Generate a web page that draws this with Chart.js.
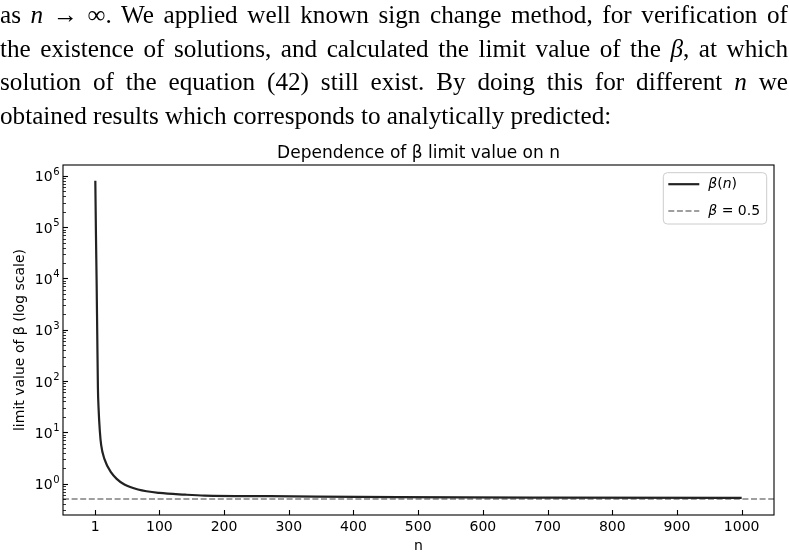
<!DOCTYPE html>
<html>
<head>
<meta charset="utf-8">
<script src="https://cdn.jsdelivr.net/npm/chart.js@4"></script>
<style>
  html, body { margin: 0; padding: 0; background: #fff; }
  body { width: 789px; height: 557px; position: relative; overflow: hidden; }
  #text {
    position: absolute; left: 0; top: -2px; width: 788px; z-index: 2;
    font-family: "Liberation Serif", "DejaVu Serif", serif;
    font-size: 25.2px; line-height: 33.5px; color: #000;
  }
  #text .j { text-align: justify; text-align-last: justify; }
  #chart { position: absolute; left: 0; top: 0; }
</style>
</head>
<body>
<div id="text">
  <div class="j">as <i>n</i> → ∞.  We applied well known sign change method, for verification of</div>
  <div class="j">the existence of solutions, and calculated the limit value of the <i>β</i>, at which</div>
  <div class="j">solution of the equation (42) still exist.  By doing this for different <i>n</i> we</div>
  <div>obtained results which corresponds to analytically predicted:</div>
</div>
<canvas id="chart" width="789" height="557"></canvas>
<script>
// values
const nValues    = [1, 2, 3, 4, 5, 6, 8, 10, 15, 26, 34, 46, 67, 100, 140, 170, 270, 470, 700, 1000];
const betaValues = [800000, 70000, 9000, 800, 75, 30, 10.5, 5.7, 3.05, 1.62, 1.24, 0.96, 0.77, 0.66, 0.61, 0.585, 0.57, 0.545, 0.535, 0.53];
const betaLimit  = 0.5;

const xTicks = [1, 100, 200, 300, 400, 500, 600, 700, 800, 900, 1000];
const yMajorTicks = [1, 10, 100, 1000, 10000, 100000, 1000000];
const yTickExponents = ['0', '1', '2', '3', '4', '5', '6'];

const xMin = -48.95, xMax = 1049.95;
const yMin = 0.245, yMax = 1.63e6;

const chartTitle = 'Dependence of β limit value on n';
const fontFamily = '"DejaVu Sans", sans-serif';

// log axis: decades plus 2..9 minor ticks
var yTickValues = [];
[0.1].concat(yMajorTicks).forEach(function (d) {
    for (let m = 1; m <= 9; m++) {
        const v = m * d;
        if (v >= yMin && v <= yMax) yTickValues.push(v);
    }
});

// draws inward ticks, 10^k labels, the box, the title and the legend
const decorPlugin = {
    id: 'decor',
    afterDraw(chart) {
        const ctx = chart.ctx;
        const area = chart.chartArea;
        const xs = chart.scales.x, ys = chart.scales.y;
        ctx.save();
        ctx.strokeStyle = '#000';
        ctx.fillStyle = '#000';

        ys.ticks.forEach(function (t) {
            const k = yMajorTicks.indexOf(t.value);
            const major = k >= 0;
            const yp = ys.getPixelForValue(t.value);
            const y = Math.round(yp) + 0.5;
            ctx.lineWidth = major ? 1.1 : 0.8;
            ctx.beginPath();
            ctx.moveTo(area.left, y);
            ctx.lineTo(area.left + (major ? 5 : 3), y);
            ctx.stroke();
            if (major) {
                // "10" with a raised exponent, right aligned next to the axis
                const right = area.left - 3.5;
                ctx.textAlign = 'right';
                ctx.textBaseline = 'alphabetic';
                ctx.font = '10px ' + fontFamily;
                ctx.fillText(yTickExponents[k], right, yp - 1);
                const ew = ctx.measureText(yTickExponents[k]).width;
                ctx.font = '14px ' + fontFamily;
                ctx.fillText('10', right - ew - 0.5, yp + 5.5);
            }
        });
        xs.ticks.forEach(function (t) {
            const x = Math.round(xs.getPixelForValue(t.value)) + 0.5;
            ctx.lineWidth = 1.1;
            ctx.beginPath();
            ctx.moveTo(x, area.bottom);
            ctx.lineTo(x, area.bottom - 5);
            ctx.stroke();
        });

        ctx.lineWidth = 1.1;
        ctx.strokeRect(area.left, area.top, area.right - area.left, area.bottom - area.top);

        ctx.font = '17px ' + fontFamily;
        ctx.textAlign = 'center';
        ctx.textBaseline = 'alphabetic';
        ctx.fillText(chartTitle, (area.left + area.right) / 2, area.top - 7);

        // legend
        const bx = area.right - 110.7, by = area.top + 7.7, bw = 103.4, bh = 51.3;
        ctx.beginPath();
        ctx.roundRect(bx, by, bw, bh, 4);
        ctx.fillStyle = 'rgba(255,255,255,0.8)';
        ctx.fill();
        ctx.strokeStyle = '#cccccc';
        ctx.lineWidth = 1;
        ctx.stroke();

        chart.data.datasets.forEach(function (ds, i) {
            const rowY = by + 11.5 + i * 26.7;
            ctx.strokeStyle = ds.borderColor;
            ctx.lineWidth = ds.borderWidth;
            ctx.setLineDash(ds.borderDash || []);
            ctx.beginPath();
            ctx.moveTo(bx + 5, rowY);
            ctx.lineTo(bx + 36, rowY);
            ctx.stroke();
            ctx.setLineDash([]);
            drawMath(ctx, ds.label, bx + 45, rowY);
        });
        ctx.restore();
    }
};

// letters in italic, the rest upright, like mathtext
function drawMath(ctx, text, x, y) {
    ctx.textAlign = 'left';
    ctx.textBaseline = 'middle';
    ctx.fillStyle = '#000';
    for (const ch of text) {
        ctx.font = (/[a-zA-Zβ]/.test(ch) ? 'italic ' : '') + '14px ' + fontFamily;
        ctx.fillText(ch, x, y);
        x += ctx.measureText(ch).width;
    }
}

const tickFont = { family: fontFamily, size: 14 };

const config = {
    type: 'scatter',
    data: {
        datasets: [{
            label: 'β(n)',
            data: nValues.map((n, i) => ({ x: n, y: betaValues[i] })),
            borderColor: '#222222',
            backgroundColor: '#222222',
            borderWidth: 2.2,
            pointRadius: 0,
            showLine: true,
            cubicInterpolationMode: 'monotone'
        },
        {
            label: 'β = 0.5',
            data: [{ x: xMin, y: betaLimit }, { x: xMax, y: betaLimit }],
            borderColor: '#808080',
            backgroundColor: '#808080',
            borderWidth: 1.5,
            borderDash: [6, 2.6],
            pointRadius: 0,
            showLine: true
        }]
    },
    options: {
        responsive: false,
        animation: false,
        layout: { padding: { left: 0, top: 165, right: 15, bottom: 0 } },
        plugins: {
            legend: { display: false },
            tooltip: { enabled: false }
        },
        scales: {
            x: {
                type: 'linear',
                min: xMin,
                max: xMax,
                grid: { display: false, drawTicks: false },
                border: { display: false },
                ticks: {
                    autoSkip: false,
                    maxRotation: 0,
                    padding: 4,
                    color: '#000',
                    font: tickFont,
                    callback: v => String(v)
                },
                afterBuildTicks: s => { s.ticks = xTicks.map(v => ({ value: v })); },
                afterFit: s => { s.height = 42; },
                title: {
                    display: true,
                    text: 'n',
                    color: '#000',
                    font: tickFont,
                    padding: { top: 0, bottom: 2 }
                }
            },
            y: {
                type: 'logarithmic',
                min: yMin,
                max: yMax,
                grid: { display: false, drawTicks: false },
                border: { display: false },
                ticks: {
                    autoSkip: false,
                    padding: 4,
                    color: '#000',
                    font: tickFont,
                    callback: () => ''
                },
                afterBuildTicks: s => { s.ticks = yTickValues.map(v => ({ value: v })); },
                afterFit: s => { s.width = 63; },
                title: {
                    display: true,
                    text: 'limit value of β (log scale)',
                    color: '#000',
                    font: tickFont,
                    padding: { top: 12, bottom: 0 }
                }
            }
        }
    },
    plugins: [decorPlugin]
};

new Chart(document.getElementById('chart'), config);
</script>
</body>
</html>
